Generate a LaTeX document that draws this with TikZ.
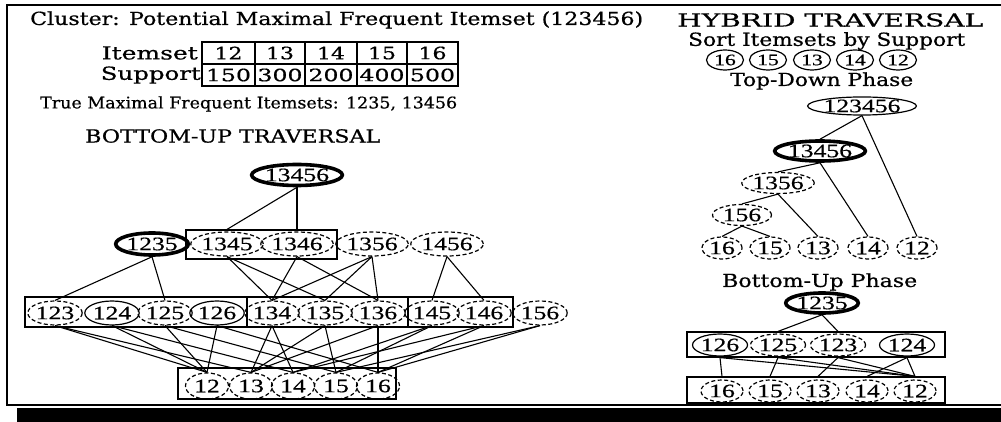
\documentclass[tikz,border=0pt]{standalone}
\usepackage{fontspec}
\usepackage{graphicx}
\usetikzlibrary{shapes.geometric}
\newfontfamily\hdf{DejaVu Serif}[FakeBold=0.6]
\newfontfamily\digf{Liberation Serif}[FakeStretch=1.35,FakeBold=0.5]
\newcommand\fitw[2]{\resizebox{#1}{\height}{#2}}
\begin{document}
\begin{tikzpicture}[x=1pt,y=-1pt,
  el/.style={ellipse, inner sep=0pt, font=\digf\fontsize{19pt}{21pt}\selectfont},
  sol/.style={el, draw, line width=1.2pt},
  thk/.style={el, draw, line width=3.6pt},
  dsh/.style={el, draw, line width=1.2pt, dash pattern=on 4pt off 2.5pt},
  grp/.style={draw, line width=1.2pt, inner sep=0pt},
  ln/.style={line width=1.1pt},
  hd/.style={inner sep=0pt, font=\hdf\fontsize{18pt}{20pt}\selectfont},
  cell/.style={inner sep=0pt, font=\hdf\fontsize{17pt}{19pt}\selectfont},
]
\useasboundingbox (0,0) rectangle (1001,422);
% frame and shadow
\fill (17,408) rectangle (1004,422);
\draw[line width=1.5pt] (1004,5) -- (7,5) -- (7,405) -- (1004,405);

% ---------- headings ----------
\node[hd, anchor=west] (title) at (30,20) {\fitw{613pt}{Cluster: Potential Maximal Frequent Itemset (123456)}};
\node[hd, anchor=east] (itl) at (198,53) {\fitw{96pt}{Itemset}};
\node[hd, anchor=east] (spl) at (201,75) {\fitw{100pt}{Support}};
\draw[line width=1.2pt] (202,42) rectangle (458,86);
\draw[line width=1.2pt] (202,64) -- (458,64);
\foreach \xx in {255,305,357,407} \draw[line width=1.2pt] (\xx,42) -- (\xx,86);
\node[cell] (c1) at (228.5,53) {\fitw{28pt}{12}};
\node[cell] (c2) at (280,53) {\fitw{28pt}{13}};
\node[cell] (c3) at (331,53) {\fitw{28pt}{14}};
\node[cell] (c4) at (382,53) {\fitw{28pt}{15}};
\node[cell] (c5) at (432.5,53) {\fitw{28pt}{16}};
\node[cell] (s1) at (228.5,75) {\fitw{45pt}{150}};
\node[cell] (s2) at (280,75) {\fitw{45pt}{300}};
\node[cell] (s3) at (331,75) {\fitw{45pt}{200}};
\node[cell] (s4) at (382,75) {\fitw{45pt}{400}};
\node[cell] (s5) at (432.5,75) {\fitw{45pt}{500}};
\node[hd, anchor=west, font=\hdf\fontsize{16pt}{18pt}\selectfont] (truem) at (40,104) {\fitw{417pt}{True Maximal Frequent Itemsets: 1235, 13456}};
\node[hd, anchor=west] (butitle) at (85,136) {\fitw{295pt}{BOTTOM-UP TRAVERSAL}};

% ---------- bottom-up lattice ----------
\node[thk, minimum width=90, minimum height=21] (a13456) at (297,175) {13456};

\node[grp, minimum width=151, minimum height=29] (bx2) at (261.5,244.5) {};
\node[thk, minimum width=70, minimum height=22] (a1235) at (152,244) {1235};
\node[dsh, minimum width=70, minimum height=24] (a1345) at (227,244) {1345};
\node[dsh, minimum width=70, minimum height=24] (a1346) at (297,244) {1346};
\node[dsh, minimum width=70, minimum height=24] (a1356) at (372,244) {1356};
\node[dsh, minimum width=70, minimum height=24] (a1456) at (447,244) {1456};

\node[grp, minimum width=222, minimum height=30] (bx3a) at (136,312) {};
\node[grp, minimum width=161, minimum height=30] (bx3b) at (327.5,312) {};
\node[grp, minimum width=105, minimum height=30] (bx3c) at (460.5,312) {};
\node[dsh, minimum width=48, minimum height=24] (a123) at (55,313) {123};
\node[sol, minimum width=48, minimum height=24] (a124) at (112,313) {124};
\node[dsh, minimum width=48, minimum height=24] (a125) at (165,313) {125};
\node[sol, minimum width=48, minimum height=24] (a126) at (217,313) {126};
\node[dsh, minimum width=48, minimum height=24] (a134) at (272,313) {134};
\node[dsh, minimum width=48, minimum height=24] (a135) at (325,313) {135};
\node[dsh, minimum width=48, minimum height=24] (a136) at (378,313) {136};
\node[dsh, minimum width=48, minimum height=24] (a145) at (432,313) {145};
\node[dsh, minimum width=48, minimum height=24] (a146) at (484,313) {146};
\node[dsh, minimum width=48, minimum height=24] (a156) at (540,313) {156};

\node[grp, minimum width=218, minimum height=31] (bx4) at (287,383.5) {};
\node[dsh, minimum width=43, minimum height=26] (a12) at (207,386) {12};
\node[dsh, minimum width=43, minimum height=26] (a13) at (251,386) {13};
\node[dsh, minimum width=43, minimum height=26] (a14) at (293,386) {14};
\node[dsh, minimum width=43, minimum height=26] (a15) at (336,386) {15};
\node[dsh, minimum width=43, minimum height=26] (a16) at (378,386) {16};

\draw[ln] (a13456.south) -- (a1345.north |- bx2.north);
\draw[ln] (a13456.south) -- (a1346.north |- bx2.north);
\draw[ln] (a1235.south) -- (a123.north);
\draw[ln] (a1235.south) -- (a125.north);
\draw[ln] (a1345.south) -- (a134.north);
\draw[ln] (a1345.south) -- (a135.north);
\draw[ln] (a1346.south) -- (a134.north);
\draw[ln] (a1346.south) -- (a136.north);
\draw[ln] (a1356.south) -- (a134.north);
\draw[ln] (a1356.south) -- (a135.north);
\draw[ln] (a1356.south) -- (a136.north);
\draw[ln] (a1456.south) -- (a145.north);
\draw[ln] (a1456.south) -- (a146.north);
\foreach \p/\q/\r in {123/12/13,124/12/14,125/12/15,126/12/16,134/13/14,135/13/15,136/13/16,145/14/15,146/14/16,156/15/16}{
  \draw[ln] (a\p.south) -- (a\q.north);
  \draw[ln] (a\p.south) -- (a\r.north);
}

% ---------- hybrid traversal ----------
\node[hd, anchor=west] (hytitle) at (677,20) {\fitw{306pt}{HYBRID TRAVERSAL}};
\node[hd, anchor=west] (sortt) at (688,41) {\fitw{277pt}{Sort Itemsets by Support}};
\node[sol, minimum width=37, minimum height=20, font=\digf\fontsize{16pt}{18pt}\selectfont] (q16) at (725,60) {16};
\node[sol, minimum width=37, minimum height=20, font=\digf\fontsize{16pt}{18pt}\selectfont] (q15) at (768,60) {15};
\node[sol, minimum width=37, minimum height=20, font=\digf\fontsize{16pt}{18pt}\selectfont] (q13) at (812,60) {13};
\node[sol, minimum width=37, minimum height=20, font=\digf\fontsize{16pt}{18pt}\selectfont] (q14) at (855,60) {14};
\node[sol, minimum width=37, minimum height=20, font=\digf\fontsize{16pt}{18pt}\selectfont] (q12) at (898,60) {12};
\node[hd, anchor=west] (tdp) at (730,81) {\fitw{183pt}{Top-Down Phase}};

\node[sol, minimum width=101, minimum height=18] (h123456) at (862,106) {123456};
\node[thk, minimum width=85, minimum height=20] (h13456) at (820,151) {13456};
\node[dsh, minimum width=71, minimum height=21] (h1356) at (778,183) {1356};
\node[dsh, minimum width=59, minimum height=21] (h156) at (742,215) {156};
\node[dsh, minimum width=40, minimum height=22] (t16) at (722,248) {16};
\node[dsh, minimum width=40, minimum height=22] (t15) at (770,248) {15};
\node[dsh, minimum width=40, minimum height=22] (t13) at (818,248) {13};
\node[dsh, minimum width=40, minimum height=22] (t14) at (868,248) {14};
\node[dsh, minimum width=40, minimum height=22] (t12) at (917,248) {12};
\draw[ln] (h123456.south) -- (h13456.north);
\draw[ln] (h123456.south) -- (t12.north);
\draw[ln] (h13456.south) -- (h1356.north);
\draw[ln] (h13456.south) -- (t14.north);
\draw[ln] (h1356.south) -- (h156.north);
\draw[ln] (h1356.south) -- (t13.north);
\draw[ln] (h156.south) -- (t16.north);
\draw[ln] (h156.south) -- (t15.north);

\node[hd, anchor=west] (bup) at (722,282) {\fitw{195pt}{Bottom-Up Phase}};
\node[thk, minimum width=67, minimum height=20] (h1235) at (822,303) {1235};
\node[grp, minimum width=258, minimum height=25] (hb1) at (816,344.5) {};
\node[sol, minimum width=55, minimum height=22] (h126) at (720,345) {126};
\node[dsh, minimum width=55, minimum height=22] (h125) at (778,345) {125};
\node[dsh, minimum width=55, minimum height=22] (h123) at (838,345) {123};
\node[sol, minimum width=55, minimum height=22] (h124) at (907,345) {124};
\node[grp, minimum width=258, minimum height=26] (hb2) at (816,390) {};
\node[dsh, minimum width=42, minimum height=22] (u16) at (722,391) {16};
\node[dsh, minimum width=42, minimum height=22] (u15) at (770,391) {15};
\node[dsh, minimum width=42, minimum height=22] (u13) at (818,391) {13};
\node[dsh, minimum width=42, minimum height=22] (u14) at (867,391) {14};
\node[dsh, minimum width=42, minimum height=22] (u12) at (915,391) {12};
\draw[ln] (h1235.south) -- (h125.north |- hb1.north);
\draw[ln] (h1235.south) -- (h123.north |- hb1.north);
\foreach \p/\q in {126/16,126/12,125/15,125/12,123/13,123/12,124/14,124/12}{
  \draw[ln] (h\p.south |- hb1.south) -- (u\q.north |- hb2.north);
}
\end{tikzpicture}
\end{document}
